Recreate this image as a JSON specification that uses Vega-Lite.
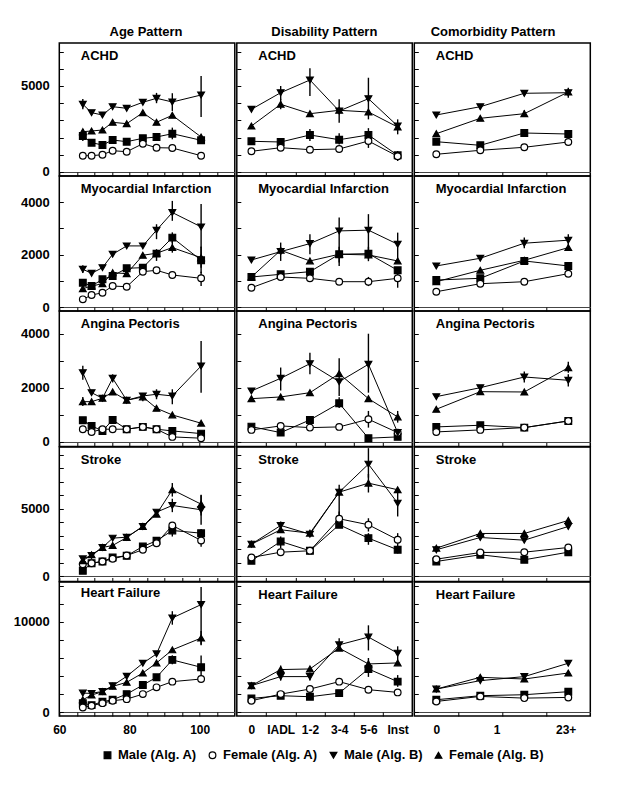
{
"$schema":"https://vega.github.io/schema/vega-lite/v6.json",
"padding":{"left":12.3,"top":26,"right":5,"bottom":8},
"config":{
 "font":"Liberation Sans",
 "view":{"stroke":"black","strokeWidth":1.5},
 "axis":{"domain":false,"tickSize":-4,"tickColor":"black","tickWidth":1,"labelFont":"Liberation Sans","labelFontSize":12,"labelFontWeight":"bold","labelColor":"black","labelFlush":false,"labelOverlap":false,"gridColor":"#444","gridWidth":1},
 "axisY":{"labelPadding":14,"labelFontSize":13},
 "axisX":{"labelPadding":13,"grid":false},
 "title":{"font":"Liberation Sans","fontSize":13,"fontWeight":"bold","color":"black","anchor":"start","frame":"group","offset":-20,"dx":21.5,"baseline":"alphabetic"},
 "legend":{"orient":"none","legendX":41.7,"legendY":705.5,"direction":"horizontal","title":null,"labelFont":"Liberation Sans","labelFontSize":13,"labelFontWeight":"bold","labelColor":"black","symbolSize":45,"symbolStrokeWidth":1.2,"labelOffset":4,"columnPadding":9},
 "range":{"category":["black","white","black","black"],"symbol":["square","circle","triangle-down","triangle-up"]}
},
"datasets":{
"ACHD_A":[
{"s":"a","x":66.7,"y":2093,"lo":1800,"hi":2480},{"s":"a","x":69.2,"y":1703},{"s":"a","x":72.3,"y":1570},{"s":"a","x":75.2,"y":1860},{"s":"a","x":79.2,"y":1762},{"s":"a","x":83.8,"y":1959},{"s":"a","x":87.7,"y":2035},{"s":"a","x":92.2,"y":2227,"lo":1900,"hi":2580},{"s":"a","x":100.4,"y":1843,"lo":1650,"hi":2050},
{"s":"b","x":66.7,"y":948},{"s":"b","x":69.2,"y":948},{"s":"b","x":72.3,"y":1006},{"s":"b","x":75.2,"y":1238},{"s":"b","x":79.2,"y":1180},{"s":"b","x":83.8,"y":1645},{"s":"b","x":87.7,"y":1413},{"s":"b","x":92.2,"y":1395},{"s":"b","x":100.4,"y":948},
{"s":"c","x":66.7,"y":3936,"lo":3650,"hi":4250},{"s":"c","x":69.2,"y":3448},{"s":"c","x":72.3,"y":3314},{"s":"c","x":75.2,"y":3797},{"s":"c","x":79.2,"y":3703},{"s":"c","x":83.8,"y":4052},{"s":"c","x":87.7,"y":4285,"lo":4000,"hi":4600},{"s":"c","x":92.2,"y":4070,"lo":3550,"hi":4580},{"s":"c","x":100.4,"y":4477,"lo":3200,"hi":5580},
{"s":"d","x":66.7,"y":2343,"lo":2200,"hi":2500},{"s":"d","x":69.2,"y":2384},{"s":"d","x":72.3,"y":2442},{"s":"d","x":75.2,"y":2890},{"s":"d","x":79.2,"y":2808},{"s":"d","x":83.8,"y":3448},{"s":"d","x":87.7,"y":2890},{"s":"d","x":92.2,"y":3297},{"s":"d","x":100.4,"y":2035}],
"ACHD_D":[
{"s":"a","x":0,"y":1785},{"s":"a","x":1,"y":1744,"lo":1600,"hi":1900},{"s":"a","x":2,"y":2151,"lo":1800,"hi":2500},{"s":"a","x":3,"y":1878,"lo":1600,"hi":2250},{"s":"a","x":4,"y":2151,"lo":1750,"hi":2550},{"s":"a","x":5,"y":971,"lo":800,"hi":1150},
{"s":"b","x":0,"y":1203},{"s":"b","x":1,"y":1413},{"s":"b","x":2,"y":1297},{"s":"b","x":3,"y":1337},{"s":"b","x":4,"y":1802,"lo":1400,"hi":2100},{"s":"b","x":5,"y":913,"lo":640,"hi":1220},
{"s":"c","x":0,"y":3645},{"s":"c","x":1,"y":4610,"lo":4200,"hi":5000},{"s":"c","x":2,"y":5349,"lo":4420,"hi":6030},{"s":"c","x":3,"y":3547,"lo":2870,"hi":4230},{"s":"c","x":4,"y":4262,"lo":3060,"hi":5480},{"s":"c","x":5,"y":2674,"lo":2190,"hi":3060},
{"s":"d","x":0,"y":2674},{"s":"d","x":1,"y":3936,"lo":3650,"hi":4250},{"s":"d","x":2,"y":3390},{"s":"d","x":3,"y":3587},{"s":"d","x":4,"y":3488},{"s":"d","x":5,"y":2616}],
"ACHD_C":[
{"s":"a","x":0,"y":1762},{"s":"a","x":1,"y":1552},{"s":"a","x":2,"y":2267},{"s":"a","x":3,"y":2209},
{"s":"b","x":0,"y":1029},{"s":"b","x":1,"y":1262},{"s":"b","x":2,"y":1436},{"s":"b","x":3,"y":1744},
{"s":"c","x":0,"y":3314},{"s":"c","x":1,"y":3797,"lo":3650,"hi":3950},{"s":"c","x":2,"y":4576,"lo":4400,"hi":4750},{"s":"c","x":3,"y":4610,"lo":4320,"hi":4900},
{"s":"d","x":0,"y":2227},{"s":"d","x":1,"y":3122},{"s":"d","x":2,"y":3390,"lo":3200,"hi":3590},{"s":"d","x":3,"y":4651}],
"MI_A":[
{"s":"a","x":66.7,"y":929},{"s":"a","x":69.2,"y":803},{"s":"a","x":72.3,"y":1059},{"s":"a","x":75.2,"y":1185},{"s":"a","x":79.2,"y":1480},{"s":"a","x":83.8,"y":1503},{"s":"a","x":87.7,"y":2038},{"s":"a","x":92.2,"y":2650,"lo":2450,"hi":2850},{"s":"a","x":100.4,"y":1786,"lo":1300,"hi":2300},
{"s":"b","x":66.7,"y":294},{"s":"b","x":69.2,"y":459},{"s":"b","x":72.3,"y":547},{"s":"b","x":75.2,"y":803},{"s":"b","x":79.2,"y":776},{"s":"b","x":83.8,"y":1350},{"s":"b","x":87.7,"y":1403},{"s":"b","x":92.2,"y":1224},{"s":"b","x":100.4,"y":1097,"lo":800,"hi":1350},
{"s":"c","x":66.7,"y":1442,"lo":1300,"hi":1600},{"s":"c","x":69.2,"y":1289},{"s":"c","x":72.3,"y":1503},{"s":"c","x":75.2,"y":2015},{"s":"c","x":79.2,"y":2333},{"s":"c","x":83.8,"y":2333},{"s":"c","x":87.7,"y":2933,"lo":2590,"hi":3160},{"s":"c","x":92.2,"y":3606,"lo":3290,"hi":4050},{"s":"c","x":100.4,"y":3059,"lo":2270,"hi":3930},
{"s":"d","x":66.7,"y":700},{"s":"d","x":69.2,"y":803},{"s":"d","x":72.3,"y":891},{"s":"d","x":75.2,"y":1312},{"s":"d","x":79.2,"y":1274},{"s":"d","x":83.8,"y":1977},{"s":"d","x":87.7,"y":2054,"lo":1760,"hi":2205},{"s":"d","x":92.2,"y":2268,"lo":2075,"hi":2520},{"s":"d","x":100.4,"y":1885,"lo":1500,"hi":2300}],
"MI_D":[
{"s":"a","x":0,"y":1147},{"s":"a","x":1,"y":1250},{"s":"a","x":2,"y":1350},{"s":"a","x":3,"y":2015,"lo":1700,"hi":2300},{"s":"a","x":4,"y":2038,"lo":1750,"hi":2300},{"s":"a","x":5,"y":1403},
{"s":"b","x":0,"y":738},{"s":"b","x":1,"y":1147},{"s":"b","x":2,"y":1097},{"s":"b","x":3,"y":968},{"s":"b","x":4,"y":968,"lo":800,"hi":1150},{"s":"b","x":5,"y":1097,"lo":738,"hi":1377},
{"s":"c","x":0,"y":1797},{"s":"c","x":1,"y":2115,"lo":1760,"hi":2460},{"s":"c","x":2,"y":2421,"lo":2015,"hi":2780},{"s":"c","x":3,"y":2906,"lo":1568,"hi":3415},{"s":"c","x":4,"y":2933,"lo":1824,"hi":3545},{"s":"c","x":5,"y":2398,"lo":1760,"hi":2840},
{"s":"d","x":0,"y":1147},{"s":"d","x":1,"y":2168},{"s":"d","x":2,"y":1759},{"s":"d","x":3,"y":2015},{"s":"d","x":4,"y":1989},{"s":"d","x":5,"y":1759}],
"MI_C":[
{"s":"a","x":0,"y":1032},{"s":"a","x":1,"y":1097},{"s":"a","x":2,"y":1759},{"s":"a","x":3,"y":1568},
{"s":"b","x":0,"y":585},{"s":"b","x":1,"y":891},{"s":"b","x":2,"y":968},{"s":"b","x":3,"y":1274},
{"s":"c","x":0,"y":1568},{"s":"c","x":1,"y":1862},{"s":"c","x":2,"y":2436,"lo":2245,"hi":2650},{"s":"c","x":3,"y":2551,"lo":2330,"hi":2780},
{"s":"d","x":0,"y":968},{"s":"d","x":1,"y":1403},{"s":"d","x":2,"y":1786},{"s":"d","x":3,"y":2268}],
"AP_A":[
{"s":"a","x":66.7,"y":801},{"s":"a","x":69.2,"y":591},{"s":"a","x":72.3,"y":406},{"s":"a","x":75.2,"y":812},{"s":"a","x":79.2,"y":469},{"s":"a","x":83.8,"y":554},{"s":"a","x":87.7,"y":469},{"s":"a","x":92.2,"y":406},{"s":"a","x":100.4,"y":307},
{"s":"b","x":66.7,"y":469},{"s":"b","x":69.2,"y":369},{"s":"b","x":72.3,"y":469},{"s":"b","x":75.2,"y":469},{"s":"b","x":79.2,"y":469},{"s":"b","x":83.8,"y":554},{"s":"b","x":87.7,"y":469},{"s":"b","x":92.2,"y":185},{"s":"b","x":100.4,"y":137},
{"s":"c","x":66.7,"y":2559,"lo":2300,"hi":2820},{"s":"c","x":69.2,"y":1820},{"s":"c","x":72.3,"y":1614},{"s":"c","x":75.2,"y":2352,"lo":2200,"hi":2500},{"s":"c","x":79.2,"y":1540},{"s":"c","x":83.8,"y":1699},{"s":"c","x":87.7,"y":1761,"lo":1577,"hi":1946},{"s":"c","x":92.2,"y":1699,"lo":1392,"hi":1946},{"s":"c","x":100.4,"y":2806,"lo":1820,"hi":3730},
{"s":"d","x":66.7,"y":1488,"lo":1330,"hi":1660},{"s":"d","x":69.2,"y":1488},{"s":"d","x":72.3,"y":1614},{"s":"d","x":75.2,"y":1846},{"s":"d","x":79.2,"y":1540},{"s":"d","x":83.8,"y":1662,"lo":1500,"hi":1800},{"s":"d","x":87.7,"y":1244},{"s":"d","x":92.2,"y":997},{"s":"d","x":100.4,"y":691}],
"AP_D":[
{"s":"a","x":0,"y":565},{"s":"a","x":1,"y":343},{"s":"a","x":2,"y":812,"lo":700,"hi":950},{"s":"a","x":3,"y":1429,"lo":1250,"hi":1650},{"s":"a","x":4,"y":137},{"s":"a","x":5,"y":185},
{"s":"b","x":0,"y":443},{"s":"b","x":1,"y":591},{"s":"b","x":2,"y":528},{"s":"b","x":3,"y":554},{"s":"b","x":4,"y":838,"lo":528,"hi":1145},{"s":"b","x":5,"y":343},
{"s":"c","x":0,"y":1883},{"s":"c","x":1,"y":2352,"lo":1900,"hi":2750},{"s":"c","x":2,"y":2891,"lo":2500,"hi":3300},{"s":"c","x":3,"y":2227,"lo":1700,"hi":3090},{"s":"c","x":4,"y":2869,"lo":1820,"hi":4000},{"s":"c","x":5,"y":343},
{"s":"d","x":0,"y":1599},{"s":"d","x":1,"y":1662},{"s":"d","x":2,"y":1820},{"s":"d","x":3,"y":2522},{"s":"d","x":4,"y":1599},{"s":"d","x":5,"y":923,"lo":713,"hi":1145}],
"AP_C":[
{"s":"a","x":0,"y":554},{"s":"a","x":1,"y":616},{"s":"a","x":2,"y":528},{"s":"a","x":3,"y":775},
{"s":"b","x":0,"y":369},{"s":"b","x":1,"y":443},{"s":"b","x":2,"y":528},{"s":"b","x":3,"y":775},
{"s":"c","x":0,"y":1673},{"s":"c","x":1,"y":2005},{"s":"c","x":2,"y":2400,"lo":2200,"hi":2600},{"s":"c","x":3,"y":2278,"lo":2050,"hi":2500},
{"s":"d","x":0,"y":1207},{"s":"d","x":1,"y":1857},{"s":"d","x":2,"y":1846},{"s":"d","x":3,"y":2744,"lo":2560,"hi":2965}],
"ST_A":[
{"s":"a","x":66.7,"y":421},{"s":"a","x":69.2,"y":982},{"s":"a","x":72.3,"y":1108},{"s":"a","x":75.2,"y":1403},{"s":"a","x":79.2,"y":1529},{"s":"a","x":83.8,"y":2216},{"s":"a","x":87.7,"y":2637},{"s":"a","x":92.2,"y":3397,"lo":2950,"hi":3690},{"s":"a","x":100.4,"y":3198,"lo":2900,"hi":3500},
{"s":"b","x":66.7,"y":908},{"s":"b","x":69.2,"y":982},{"s":"b","x":72.3,"y":1108},{"s":"b","x":75.2,"y":1307},{"s":"b","x":79.2,"y":1551},{"s":"b","x":83.8,"y":1972},{"s":"b","x":87.7,"y":2459},{"s":"b","x":92.2,"y":3767},{"s":"b","x":100.4,"y":2659,"lo":2200,"hi":3000},
{"s":"c","x":66.7,"y":1307},{"s":"c","x":69.2,"y":1551},{"s":"c","x":72.3,"y":2142},{"s":"c","x":75.2,"y":2829},{"s":"c","x":79.2,"y":2902},{"s":"c","x":83.8,"y":3693},{"s":"c","x":87.7,"y":4749},{"s":"c","x":92.2,"y":5244,"lo":4750,"hi":5740},{"s":"c","x":100.4,"y":4926,"lo":3820,"hi":6030},
{"s":"d","x":66.7,"y":1160},{"s":"d","x":69.2,"y":1603},{"s":"d","x":72.3,"y":2142},{"s":"d","x":75.2,"y":2290},{"s":"d","x":79.2,"y":2880},{"s":"d","x":83.8,"y":3693},{"s":"d","x":87.7,"y":4601},{"s":"d","x":92.2,"y":6403,"lo":5900,"hi":6900},{"s":"d","x":100.4,"y":5340,"lo":4500,"hi":6000}],
"ST_D":[
{"s":"a","x":0,"y":1160},{"s":"a","x":1,"y":2585,"lo":2090,"hi":2955},{"s":"a","x":2,"y":1898},{"s":"a","x":3,"y":3818},{"s":"a","x":4,"y":2829,"lo":2340,"hi":3200},{"s":"a","x":5,"y":1972,"lo":1700,"hi":2250},
{"s":"b","x":0,"y":1403},{"s":"b","x":1,"y":1795},{"s":"b","x":2,"y":1898},{"s":"b","x":3,"y":4261,"lo":3818,"hi":4800},{"s":"b","x":4,"y":3818,"lo":3320,"hi":4300},{"s":"b","x":5,"y":2710,"lo":2215,"hi":3200},
{"s":"c","x":0,"y":2386},{"s":"c","x":1,"y":3767,"lo":3320,"hi":4060},{"s":"c","x":2,"y":3124},{"s":"c","x":3,"y":6226,"lo":4431,"hi":6772},{"s":"c","x":4,"y":8294,"lo":7300,"hi":9475},{"s":"c","x":5,"y":5414,"lo":4431,"hi":6403},
{"s":"d","x":0,"y":2386},{"s":"d","x":1,"y":3449},{"s":"d","x":2,"y":3198},{"s":"d","x":3,"y":6226},{"s":"d","x":4,"y":6891,"lo":6200,"hi":7570},{"s":"d","x":5,"y":6403}],
"ST_C":[
{"s":"a","x":0,"y":1108},{"s":"a","x":1,"y":1603},{"s":"a","x":2,"y":1233},{"s":"a","x":3,"y":1795},
{"s":"b","x":0,"y":1278},{"s":"b","x":1,"y":1773},{"s":"b","x":2,"y":1795},{"s":"b","x":3,"y":2142},
{"s":"c","x":0,"y":1972},{"s":"c","x":1,"y":2880},{"s":"c","x":2,"y":2681},{"s":"c","x":3,"y":3693},
{"s":"d","x":0,"y":2090},{"s":"d","x":1,"y":3176},{"s":"d","x":2,"y":3176},{"s":"d","x":3,"y":4136}],
"HF_A":[
{"s":"a","x":66.7,"y":983},{"s":"a","x":69.2,"y":760},{"s":"a","x":72.3,"y":1140},{"s":"a","x":75.2,"y":1363},{"s":"a","x":79.2,"y":1989},{"s":"a","x":83.8,"y":2994},{"s":"a","x":87.7,"y":3855},{"s":"a","x":92.2,"y":5788,"lo":5300,"hi":6300},{"s":"a","x":100.4,"y":4972,"lo":3665,"hi":6280},
{"s":"b","x":66.7,"y":503},{"s":"b","x":69.2,"y":693},{"s":"b","x":72.3,"y":983},{"s":"b","x":75.2,"y":1251},{"s":"b","x":79.2,"y":1430},{"s":"b","x":83.8,"y":1989},{"s":"b","x":87.7,"y":2737},{"s":"b","x":92.2,"y":3374},{"s":"b","x":100.4,"y":3665},
{"s":"c","x":66.7,"y":2100},{"s":"c","x":69.2,"y":2067},{"s":"c","x":72.3,"y":2290},{"s":"c","x":75.2,"y":2927},{"s":"c","x":79.2,"y":3966},{"s":"c","x":83.8,"y":5419},{"s":"c","x":87.7,"y":6458},{"s":"c","x":92.2,"y":10447,"lo":9700,"hi":11200},{"s":"c","x":100.4,"y":11933,"lo":7430,"hi":13900},
{"s":"d","x":66.7,"y":1363},{"s":"d","x":69.2,"y":1877},{"s":"d","x":72.3,"y":2257},{"s":"d","x":75.2,"y":2849},{"s":"d","x":79.2,"y":3296},{"s":"d","x":83.8,"y":4335},{"s":"d","x":87.7,"y":5453},{"s":"d","x":92.2,"y":6905},{"s":"d","x":100.4,"y":8212,"lo":7500,"hi":9000}],
"HF_D":[
{"s":"a","x":0,"y":1508},{"s":"a","x":1,"y":1810},{"s":"a","x":2,"y":1698},{"s":"a","x":3,"y":2100},{"s":"a","x":4,"y":4782,"lo":3900,"hi":5700},{"s":"a","x":5,"y":3374,"lo":2800,"hi":4100},
{"s":"b","x":0,"y":1251},{"s":"b","x":1,"y":1989},{"s":"b","x":2,"y":2547},{"s":"b","x":3,"y":3374},{"s":"b","x":4,"y":2480},{"s":"b","x":5,"y":2179},
{"s":"c","x":0,"y":2927},{"s":"c","x":1,"y":3933,"lo":3490,"hi":5160},{"s":"c","x":2,"y":3933,"lo":3500,"hi":4400},{"s":"c","x":3,"y":7464,"lo":6800,"hi":8200},{"s":"c","x":4,"y":8324,"lo":6838,"hi":9631},{"s":"c","x":5,"y":6536,"lo":5700,"hi":7300},
{"s":"d","x":0,"y":2927},{"s":"d","x":1,"y":4715},{"s":"d","x":2,"y":4782},{"s":"d","x":3,"y":7095},{"s":"d","x":4,"y":5341,"lo":4700,"hi":6000},{"s":"d","x":5,"y":5453}],
"HF_C":[
{"s":"a","x":0,"y":1363},{"s":"a","x":1,"y":1810},{"s":"a","x":2,"y":1922},{"s":"a","x":3,"y":2257},
{"s":"b","x":0,"y":1173},{"s":"b","x":1,"y":1732},{"s":"b","x":2,"y":1542},{"s":"b","x":3,"y":1620},
{"s":"c","x":0,"y":2547},{"s":"c","x":1,"y":3486},{"s":"c","x":2,"y":3933},{"s":"c","x":3,"y":5419},
{"s":"d","x":0,"y":2547},{"s":"d","x":1,"y":3855},{"s":"d","x":2,"y":3665},{"s":"d","x":3,"y":4335}]
},
"hconcat":[
{"title":{"text":"Age Pattern","anchor":"middle","frame":"bounds","offset":3,"dx":22},"spacing":0,"bounds":"flush","vconcat":[
{"width":175.5,"height":133,"title":{"text":"ACHD"},"data":{"name":"ACHD_A"},"encoding":{"x":{"field":"x","type":"quantitative","title":null,"scale":{"domain":[60,110],"nice":false,"zero":false},"axis":{"values":[60,65,70,75,80,85,90,95,100,105],"labels":false}},"y":{"field":"y","type":"quantitative","title":null,"scale":{"domain":[-233,7500],"nice":false,"zero":false},"axis":{"values":[0,1000,2000,3000,4000,5000,6000,7000],"labelExpr":"datum.value%5000==0?''+datum.value:''","grid":true,"gridOpacity":{"condition":{"test":"datum.value==0","value":1},"value":0}}}},
"layer":[{"mark":{"type":"rule","color":"black","strokeWidth":1.4},"encoding":{"y":{"field":"lo","type":"quantitative","title":null},"y2":{"field":"hi"}}},{"mark":{"type":"line","color":"black","strokeWidth":1},"encoding":{"detail":{"field":"s"}}},{"mark":{"type":"point","filled":true,"strokeWidth":1.2,"size":45,"opacity":1},"encoding":{"shape":{"field":"s","type":"nominal","legend":{"labelExpr":"datum.label=='a'?'Male (Alg. A)':datum.label=='b'?'Female (Alg. A)':datum.label=='c'?'Male (Alg. B)':'Female (Alg. B)'"}},"fill":{"field":"s","type":"nominal","legend":{"labelExpr":"datum.label=='a'?'Male (Alg. A)':datum.label=='b'?'Female (Alg. A)':datum.label=='c'?'Male (Alg. B)':'Female (Alg. B)'"}},"stroke":{"field":"s","type":"nominal","scale":{"range":["black"]},"legend":{"labelExpr":"datum.label=='a'?'Male (Alg. A)':datum.label=='b'?'Female (Alg. A)':datum.label=='c'?'Male (Alg. B)':'Female (Alg. B)'"}}}}]},
{"width":175.5,"height":135,"title":{"text":"Myocardial Infarction"},"data":{"name":"MI_A"},"encoding":{"x":{"field":"x","type":"quantitative","title":null,"scale":{"domain":[60,110],"nice":false,"zero":false},"axis":{"values":[60,65,70,75,80,85,90,95,100,105],"labels":false}},"y":{"field":"y","type":"quantitative","title":null,"scale":{"domain":[-150,5000],"nice":false,"zero":false},"axis":{"values":[0,1000,2000,3000,4000],"labelExpr":"datum.value%2000==0?''+datum.value:''","grid":true,"gridOpacity":{"condition":{"test":"datum.value==0","value":1},"value":0}}}},
"layer":[{"mark":{"type":"rule","color":"black","strokeWidth":1.4},"encoding":{"y":{"field":"lo","type":"quantitative","title":null},"y2":{"field":"hi"}}},{"mark":{"type":"line","color":"black","strokeWidth":1},"encoding":{"detail":{"field":"s"}}},{"mark":{"type":"point","filled":true,"strokeWidth":1.2,"size":45,"opacity":1},"encoding":{"shape":{"field":"s","type":"nominal"},"fill":{"field":"s","type":"nominal"},"stroke":{"field":"s","type":"nominal","scale":{"range":["black"]}}}}]},
{"width":175.5,"height":135.5,"title":{"text":"Angina Pectoris"},"data":{"name":"AP_A"},"encoding":{"x":{"field":"x","type":"quantitative","title":null,"scale":{"domain":[60,110],"nice":false,"zero":false},"axis":{"values":[60,65,70,75,80,85,90,95,100,105],"labels":false}},"y":{"field":"y","type":"quantitative","title":null,"scale":{"domain":[-170,4840],"nice":false,"zero":false},"axis":{"values":[0,1000,2000,3000,4000],"labelExpr":"datum.value%2000==0?''+datum.value:''","grid":true,"gridOpacity":{"condition":{"test":"datum.value==0","value":1},"value":0}}}},
"layer":[{"mark":{"type":"rule","color":"black","strokeWidth":1.4},"encoding":{"y":{"field":"lo","type":"quantitative","title":null},"y2":{"field":"hi"}}},{"mark":{"type":"line","color":"black","strokeWidth":1},"encoding":{"detail":{"field":"s"}}},{"mark":{"type":"point","filled":true,"strokeWidth":1.2,"size":45,"opacity":1},"encoding":{"shape":{"field":"s","type":"nominal"},"fill":{"field":"s","type":"nominal"},"stroke":{"field":"s","type":"nominal","scale":{"range":["black"]}}}}]},
{"width":175.5,"height":134.5,"title":{"text":"Stroke"},"data":{"name":"ST_A"},"encoding":{"x":{"field":"x","type":"quantitative","title":null,"scale":{"domain":[60,110],"nice":false,"zero":false},"axis":{"values":[60,65,70,75,80,85,90,95,100,105],"labels":false}},"y":{"field":"y","type":"quantitative","title":null,"scale":{"domain":[-370,9560],"nice":false,"zero":false},"axis":{"values":[0,1000,2000,3000,4000,5000,6000,7000,8000,9000],"labelExpr":"datum.value%5000==0?''+datum.value:''","grid":true,"gridOpacity":{"condition":{"test":"datum.value==0","value":1},"value":0}}}},
"layer":[{"mark":{"type":"rule","color":"black","strokeWidth":1.4},"encoding":{"y":{"field":"lo","type":"quantitative","title":null},"y2":{"field":"hi"}}},{"mark":{"type":"line","color":"black","strokeWidth":1},"encoding":{"detail":{"field":"s"}}},{"mark":{"type":"point","filled":true,"strokeWidth":1.2,"size":45,"opacity":1},"encoding":{"shape":{"field":"s","type":"nominal"},"fill":{"field":"s","type":"nominal"},"stroke":{"field":"s","type":"nominal","scale":{"range":["black"]}}}}]},
{"width":175.5,"height":134,"title":{"text":"Heart Failure"},"data":{"name":"HF_A"},"encoding":{"x":{"field":"x","type":"quantitative","title":null,"scale":{"domain":[60,110],"nice":false,"zero":false},"axis":{"values":[60,65,70,75,80,85,90,95,100,105],"labelExpr":"datum.value%20==0?''+datum.value:''"}},"y":{"field":"y","type":"quantitative","title":null,"scale":{"domain":[-444,14444],"nice":false,"zero":false},"axis":{"values":[0,2000,4000,6000,8000,10000,12000,14000],"labelExpr":"datum.value%10000==0?''+datum.value:''","grid":true,"gridOpacity":{"condition":{"test":"datum.value==0","value":1},"value":0}}}},
"layer":[{"mark":{"type":"rule","color":"black","strokeWidth":1.4},"encoding":{"y":{"field":"lo","type":"quantitative","title":null},"y2":{"field":"hi"}}},{"mark":{"type":"line","color":"black","strokeWidth":1},"encoding":{"detail":{"field":"s"}}},{"mark":{"type":"point","filled":true,"strokeWidth":1.2,"size":45,"opacity":1},"encoding":{"shape":{"field":"s","type":"nominal"},"fill":{"field":"s","type":"nominal"},"stroke":{"field":"s","type":"nominal","scale":{"range":["black"]}}}}]}
]},
{"title":{"text":"Disability Pattern","anchor":"middle","frame":"bounds","offset":3,"dx":0},"spacing":0,"bounds":"flush","vconcat":[
{"width":175.5,"height":133,"title":{"text":"ACHD"},"data":{"name":"ACHD_D"},"encoding":{"x":{"field":"x","type":"quantitative","title":null,"scale":{"domain":[-0.5,5.5],"nice":false,"zero":false},"axis":{"values":[0,0.5,1,1.5,2,2.5,3,3.5,4,4.5,5],"labels":false,"tickOpacity":{"condition":{"test":"datum.value%1==0","value":0},"value":1}}},"y":{"field":"y","type":"quantitative","title":null,"scale":{"domain":[-233,7500],"nice":false,"zero":false},"axis":{"values":[0,1000,2000,3000,4000,5000,6000,7000],"labels":false,"grid":true,"gridOpacity":{"condition":{"test":"datum.value==0","value":1},"value":0}}}},
"layer":[{"mark":{"type":"rule","color":"black","strokeWidth":1.4},"encoding":{"y":{"field":"lo","type":"quantitative","title":null},"y2":{"field":"hi"}}},{"mark":{"type":"line","color":"black","strokeWidth":1},"encoding":{"detail":{"field":"s"}}},{"mark":{"type":"point","filled":true,"strokeWidth":1.2,"size":45,"opacity":1},"encoding":{"shape":{"field":"s","type":"nominal"},"fill":{"field":"s","type":"nominal"},"stroke":{"field":"s","type":"nominal","scale":{"range":["black"]}}}}]},
{"width":175.5,"height":135,"title":{"text":"Myocardial Infarction"},"data":{"name":"MI_D"},"encoding":{"x":{"field":"x","type":"quantitative","title":null,"scale":{"domain":[-0.5,5.5],"nice":false,"zero":false},"axis":{"values":[0,0.5,1,1.5,2,2.5,3,3.5,4,4.5,5],"labels":false,"tickOpacity":{"condition":{"test":"datum.value%1==0","value":0},"value":1}}},"y":{"field":"y","type":"quantitative","title":null,"scale":{"domain":[-150,5000],"nice":false,"zero":false},"axis":{"values":[0,1000,2000,3000,4000],"labels":false,"grid":true,"gridOpacity":{"condition":{"test":"datum.value==0","value":1},"value":0}}}},
"layer":[{"mark":{"type":"rule","color":"black","strokeWidth":1.4},"encoding":{"y":{"field":"lo","type":"quantitative","title":null},"y2":{"field":"hi"}}},{"mark":{"type":"line","color":"black","strokeWidth":1},"encoding":{"detail":{"field":"s"}}},{"mark":{"type":"point","filled":true,"strokeWidth":1.2,"size":45,"opacity":1},"encoding":{"shape":{"field":"s","type":"nominal"},"fill":{"field":"s","type":"nominal"},"stroke":{"field":"s","type":"nominal","scale":{"range":["black"]}}}}]},
{"width":175.5,"height":135.5,"title":{"text":"Angina Pectoris"},"data":{"name":"AP_D"},"encoding":{"x":{"field":"x","type":"quantitative","title":null,"scale":{"domain":[-0.5,5.5],"nice":false,"zero":false},"axis":{"values":[0,0.5,1,1.5,2,2.5,3,3.5,4,4.5,5],"labels":false,"tickOpacity":{"condition":{"test":"datum.value%1==0","value":0},"value":1}}},"y":{"field":"y","type":"quantitative","title":null,"scale":{"domain":[-170,4840],"nice":false,"zero":false},"axis":{"values":[0,1000,2000,3000,4000],"labels":false,"grid":true,"gridOpacity":{"condition":{"test":"datum.value==0","value":1},"value":0}}}},
"layer":[{"mark":{"type":"rule","color":"black","strokeWidth":1.4},"encoding":{"y":{"field":"lo","type":"quantitative","title":null},"y2":{"field":"hi"}}},{"mark":{"type":"line","color":"black","strokeWidth":1},"encoding":{"detail":{"field":"s"}}},{"mark":{"type":"point","filled":true,"strokeWidth":1.2,"size":45,"opacity":1},"encoding":{"shape":{"field":"s","type":"nominal"},"fill":{"field":"s","type":"nominal"},"stroke":{"field":"s","type":"nominal","scale":{"range":["black"]}}}}]},
{"width":175.5,"height":134.5,"title":{"text":"Stroke"},"data":{"name":"ST_D"},"encoding":{"x":{"field":"x","type":"quantitative","title":null,"scale":{"domain":[-0.5,5.5],"nice":false,"zero":false},"axis":{"values":[0,0.5,1,1.5,2,2.5,3,3.5,4,4.5,5],"labels":false,"tickOpacity":{"condition":{"test":"datum.value%1==0","value":0},"value":1}}},"y":{"field":"y","type":"quantitative","title":null,"scale":{"domain":[-370,9560],"nice":false,"zero":false},"axis":{"values":[0,1000,2000,3000,4000,5000,6000,7000,8000,9000],"labels":false,"grid":true,"gridOpacity":{"condition":{"test":"datum.value==0","value":1},"value":0}}}},
"layer":[{"mark":{"type":"rule","color":"black","strokeWidth":1.4},"encoding":{"y":{"field":"lo","type":"quantitative","title":null},"y2":{"field":"hi"}}},{"mark":{"type":"line","color":"black","strokeWidth":1},"encoding":{"detail":{"field":"s"}}},{"mark":{"type":"point","filled":true,"strokeWidth":1.2,"size":45,"opacity":1},"encoding":{"shape":{"field":"s","type":"nominal"},"fill":{"field":"s","type":"nominal"},"stroke":{"field":"s","type":"nominal","scale":{"range":["black"]}}}}]},
{"width":175.5,"height":134,"title":{"text":"Heart Failure"},"data":{"name":"HF_D"},"encoding":{"x":{"field":"x","type":"quantitative","title":null,"scale":{"domain":[-0.5,5.5],"nice":false,"zero":false},"axis":{"values":[0,0.5,1,1.5,2,2.5,3,3.5,4,4.5,5],"labelExpr":"datum.value%1==0?['0','IADL','1-2','3-4','5-6','Inst'][datum.value]:''","tickOpacity":{"condition":{"test":"datum.value%1==0","value":0},"value":1}}},"y":{"field":"y","type":"quantitative","title":null,"scale":{"domain":[-444,14444],"nice":false,"zero":false},"axis":{"values":[0,2000,4000,6000,8000,10000,12000,14000],"labels":false,"grid":true,"gridOpacity":{"condition":{"test":"datum.value==0","value":1},"value":0}}}},
"layer":[{"mark":{"type":"rule","color":"black","strokeWidth":1.4},"encoding":{"y":{"field":"lo","type":"quantitative","title":null},"y2":{"field":"hi"}}},{"mark":{"type":"line","color":"black","strokeWidth":1},"encoding":{"detail":{"field":"s"}}},{"mark":{"type":"point","filled":true,"strokeWidth":1.2,"size":45,"opacity":1},"encoding":{"shape":{"field":"s","type":"nominal"},"fill":{"field":"s","type":"nominal"},"stroke":{"field":"s","type":"nominal","scale":{"range":["black"]}}}}]}
]},
{"title":{"text":"Comorbidity Pattern","anchor":"middle","frame":"bounds","offset":3,"dx":-9},"spacing":0,"bounds":"flush","vconcat":[
{"width":176,"height":133,"title":{"text":"ACHD"},"data":{"name":"ACHD_C"},"encoding":{"x":{"field":"x","type":"quantitative","title":null,"scale":{"domain":[-0.5,3.5],"nice":false,"zero":false},"axis":{"values":[0.5,1.5,2.5],"labels":false}},"y":{"field":"y","type":"quantitative","title":null,"scale":{"domain":[-233,7500],"nice":false,"zero":false},"axis":{"values":[0,1000,2000,3000,4000,5000,6000,7000],"labels":false,"grid":true,"gridOpacity":{"condition":{"test":"datum.value==0","value":1},"value":0}}}},
"layer":[{"mark":{"type":"rule","color":"black","strokeWidth":1.4},"encoding":{"y":{"field":"lo","type":"quantitative","title":null},"y2":{"field":"hi"}}},{"mark":{"type":"line","color":"black","strokeWidth":1},"encoding":{"detail":{"field":"s"}}},{"mark":{"type":"point","filled":true,"strokeWidth":1.2,"size":45,"opacity":1},"encoding":{"shape":{"field":"s","type":"nominal"},"fill":{"field":"s","type":"nominal"},"stroke":{"field":"s","type":"nominal","scale":{"range":["black"]}}}}]},
{"width":176,"height":135,"title":{"text":"Myocardial Infarction"},"data":{"name":"MI_C"},"encoding":{"x":{"field":"x","type":"quantitative","title":null,"scale":{"domain":[-0.5,3.5],"nice":false,"zero":false},"axis":{"values":[0.5,1.5,2.5],"labels":false}},"y":{"field":"y","type":"quantitative","title":null,"scale":{"domain":[-150,5000],"nice":false,"zero":false},"axis":{"values":[0,1000,2000,3000,4000],"labels":false,"grid":true,"gridOpacity":{"condition":{"test":"datum.value==0","value":1},"value":0}}}},
"layer":[{"mark":{"type":"rule","color":"black","strokeWidth":1.4},"encoding":{"y":{"field":"lo","type":"quantitative","title":null},"y2":{"field":"hi"}}},{"mark":{"type":"line","color":"black","strokeWidth":1},"encoding":{"detail":{"field":"s"}}},{"mark":{"type":"point","filled":true,"strokeWidth":1.2,"size":45,"opacity":1},"encoding":{"shape":{"field":"s","type":"nominal"},"fill":{"field":"s","type":"nominal"},"stroke":{"field":"s","type":"nominal","scale":{"range":["black"]}}}}]},
{"width":176,"height":135.5,"title":{"text":"Angina Pectoris"},"data":{"name":"AP_C"},"encoding":{"x":{"field":"x","type":"quantitative","title":null,"scale":{"domain":[-0.5,3.5],"nice":false,"zero":false},"axis":{"values":[0.5,1.5,2.5],"labels":false}},"y":{"field":"y","type":"quantitative","title":null,"scale":{"domain":[-170,4840],"nice":false,"zero":false},"axis":{"values":[0,1000,2000,3000,4000],"labels":false,"grid":true,"gridOpacity":{"condition":{"test":"datum.value==0","value":1},"value":0}}}},
"layer":[{"mark":{"type":"rule","color":"black","strokeWidth":1.4},"encoding":{"y":{"field":"lo","type":"quantitative","title":null},"y2":{"field":"hi"}}},{"mark":{"type":"line","color":"black","strokeWidth":1},"encoding":{"detail":{"field":"s"}}},{"mark":{"type":"point","filled":true,"strokeWidth":1.2,"size":45,"opacity":1},"encoding":{"shape":{"field":"s","type":"nominal"},"fill":{"field":"s","type":"nominal"},"stroke":{"field":"s","type":"nominal","scale":{"range":["black"]}}}}]},
{"width":176,"height":134.5,"title":{"text":"Stroke"},"data":{"name":"ST_C"},"encoding":{"x":{"field":"x","type":"quantitative","title":null,"scale":{"domain":[-0.5,3.5],"nice":false,"zero":false},"axis":{"values":[0.5,1.5,2.5],"labels":false}},"y":{"field":"y","type":"quantitative","title":null,"scale":{"domain":[-370,9560],"nice":false,"zero":false},"axis":{"values":[0,1000,2000,3000,4000,5000,6000,7000,8000,9000],"labels":false,"grid":true,"gridOpacity":{"condition":{"test":"datum.value==0","value":1},"value":0}}}},
"layer":[{"mark":{"type":"rule","color":"black","strokeWidth":1.4},"encoding":{"y":{"field":"lo","type":"quantitative","title":null},"y2":{"field":"hi"}}},{"mark":{"type":"line","color":"black","strokeWidth":1},"encoding":{"detail":{"field":"s"}}},{"mark":{"type":"point","filled":true,"strokeWidth":1.2,"size":45,"opacity":1},"encoding":{"shape":{"field":"s","type":"nominal"},"fill":{"field":"s","type":"nominal"},"stroke":{"field":"s","type":"nominal","scale":{"range":["black"]}}}}]},
{"width":176,"height":134,"title":{"text":"Heart Failure"},"data":{"name":"HF_C"},"encoding":{"x":{"field":"x","type":"quantitative","title":null,"scale":{"domain":[-0.5,3.5],"nice":false,"zero":false},"axis":{"values":[0,0.5,1.37,1.5,2.5,2.94],"labelExpr":"datum.value==0?'0':datum.value==1.37?'1':datum.value==2.94?'23+':''","tickOpacity":{"condition":{"test":"datum.value%1==0.5","value":1},"value":0}}},"y":{"field":"y","type":"quantitative","title":null,"scale":{"domain":[-444,14444],"nice":false,"zero":false},"axis":{"values":[0,2000,4000,6000,8000,10000,12000,14000],"labels":false,"grid":true,"gridOpacity":{"condition":{"test":"datum.value==0","value":1},"value":0}}}},
"layer":[{"mark":{"type":"rule","color":"black","strokeWidth":1.4},"encoding":{"y":{"field":"lo","type":"quantitative","title":null},"y2":{"field":"hi"}}},{"mark":{"type":"line","color":"black","strokeWidth":1},"encoding":{"detail":{"field":"s"}}},{"mark":{"type":"point","filled":true,"strokeWidth":1.2,"size":45,"opacity":1},"encoding":{"shape":{"field":"s","type":"nominal"},"fill":{"field":"s","type":"nominal"},"stroke":{"field":"s","type":"nominal","scale":{"range":["black"]}}}}]}
]}
],
"spacing":-1.5
}
